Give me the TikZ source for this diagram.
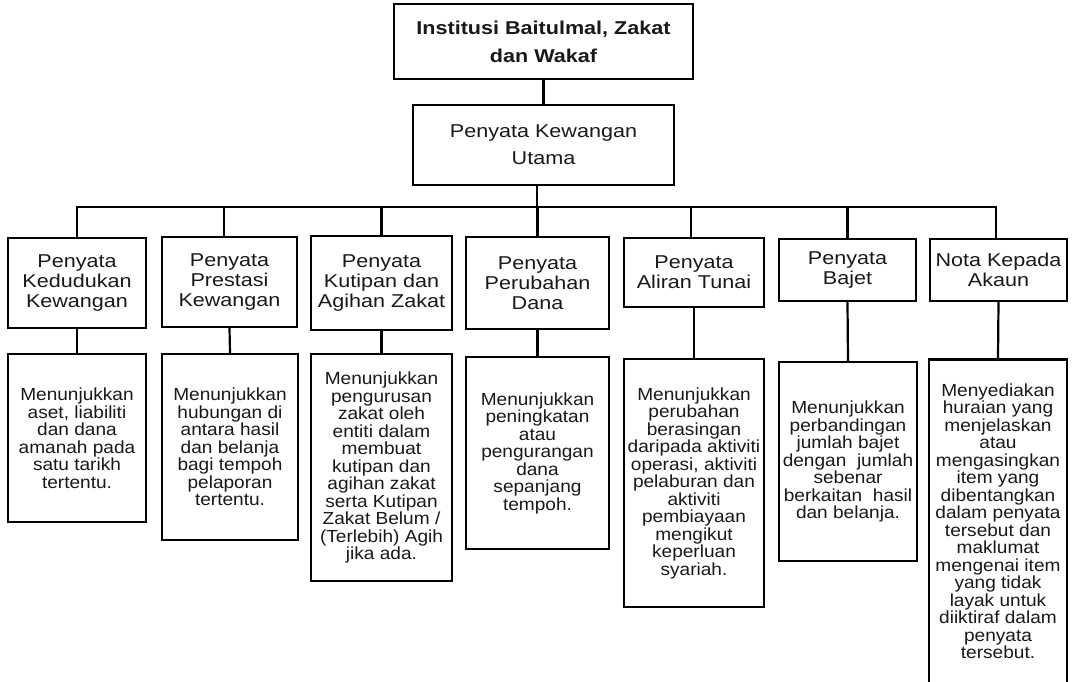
\documentclass[tikz,border=0pt]{standalone}
\usepackage{fontspec}
\setmainfont{Liberation Sans}
\newfontfamily\headfont{Liberation Sans}[FakeStretch=1.16]
\newfontfamily\bodyfont{Liberation Sans}[FakeStretch=1.09]
\begin{document}
\begin{tikzpicture}[x=1pt,y=-1pt,
  box/.style={draw, line width=2.2pt, inner sep=0pt, align=center, text=black!90},
  lvltop/.style={box, font=\headfont\bfseries\fontsize{18.6}{28}\selectfont},
  lvlmain/.style={box, font=\headfont\fontsize{18.6}{26.7}\selectfont},
  lvltwo/.style={box, font=\headfont\fontsize{18.6}{20}\selectfont},
  lvlthree/.style={box, font=\bodyfont\fontsize{17.5}{17.5}\selectfont},
  link/.style={line width=2.2pt}]
\useasboundingbox (0,0) rectangle (1072,681);
\clip (0,0) rectangle (1072,681);
\fill[white] (0,0) rectangle (1072,681);

% level 0 and 1
\node[lvltop, minimum width=299pt, minimum height=75pt] (top) at (543.5,41.5) {Institusi Baitulmal, Zakat\\dan Wakaf};
\node[lvlmain, minimum width=261pt, minimum height=80pt] (pk) at (543.5,145) {Penyata Kewangan\\Utama};

% level 2
\node[lvltwo, minimum width=138pt, minimum height=90pt] (b1) at (77,283) {Penyata\\Kedudukan\\Kewangan};
\node[lvltwo, minimum width=135pt, minimum height=90pt] (b2) at (229.5,282) {Penyata\\Prestasi\\Kewangan};
\node[lvltwo, minimum width=141pt, minimum height=94pt] (b3) at (381.5,283) {Penyata\\Kutipan dan\\Agihan Zakat};
\node[lvltwo, minimum width=143pt, minimum height=92pt] (b4) at (537.5,283) {Penyata\\Perubahan\\Dana};
\node[lvltwo, minimum width=140pt, minimum height=69pt] (b5) at (694,272.5) {Penyata\\Aliran Tunai};
\node[lvltwo, minimum width=137pt, minimum height=62pt] (b6) at (847.5,270) {Penyata\\Bajet};
\node[lvltwo, minimum width=137pt, minimum height=62pt] (b7) at (998.5,270) {Nota Kepada\\Akaun};

% level 3
\node[lvlthree, minimum width=138pt, minimum height=168pt] (c1) at (77,438) {Menunjukkan\\aset, liabiliti\\dan dana\\amanah pada\\satu tarikh\\tertentu.};
\node[lvlthree, minimum width=136pt, minimum height=186pt] (c2) at (230,447) {Menunjukkan\\hubungan di\\antara hasil\\dan belanja\\bagi tempoh\\pelaporan\\tertentu.};
\node[lvlthree, minimum width=141pt, minimum height=227pt] (c3) at (381.5,467.5) {Menunjukkan\\pengurusan\\zakat oleh\\entiti dalam\\membuat\\kutipan dan\\agihan zakat\\serta Kutipan\\Zakat Belum /\\(Terlebih) Agih\\jika ada.};
\node[lvlthree, minimum width=143pt, minimum height=192pt] (c4) at (537.5,453) {Menunjukkan\\peningkatan\\atau\\pengurangan\\dana\\sepanjang\\tempoh.};
\node[lvlthree, minimum width=140pt, minimum height=248pt] (c5) at (694,483) {Menunjukkan\\perubahan\\berasingan\\daripada aktiviti\\operasi, aktiviti\\pelaburan dan\\aktiviti\\pembiayaan\\mengikut\\keperluan\\syariah.};
\node[lvlthree, minimum width=138pt, minimum height=199pt] (c6) at (848,461.5) {Menunjukkan\\perbandingan\\jumlah bajet\\dengan\ \ jumlah\\sebenar\\berkaitan\ \ hasil\\dan belanja.};
\node[lvlthree, draw=none, minimum width=136pt, minimum height=321pt] (c7) at (998,521) {Menyediakan\\huraian yang\\menjelaskan\\atau\\mengasingkan\\item yang\\dibentangkan\\dalam penyata\\tersebut dan\\maklumat\\mengenai item\\yang tidak\\layak untuk\\diiktiraf dalam\\penyata\\tersebut.};
\draw[line width=2.2pt] (c7.north west) rectangle ([yshift=-30pt]c7.south east);

% connectors
\draw[link] (top.south) -- (pk.north);
\coordinate (bl) at (77,207);
\coordinate (br) at (996,207);
\coordinate (d2) at (224,207);
\coordinate (d5) at (691,207);
\coordinate (d7) at (996,207);
\draw[link] ([xshift=-6.5pt]pk.south) -- ([xshift=-6.5pt]pk.south |- bl);
\draw[link, line cap=rect] (bl) -- (br);
\draw[link] (bl) -- (b1.north);
\draw[link] (d2) -- (d2 |- b2.north);
\draw[link] (b3.north |- bl) -- (b3.north);
\draw[link] (b4.north |- bl) -- (b4.north);
\draw[link] (d5) -- (d5 |- b5.north);
\draw[link] (b6.north |- bl) -- (b6.north);
\draw[link] (d7) -- (d7 |- b7.north);

\draw[link] (b1.south) -- (c1.north);
\draw[link] (b2.south) -- (c2.north);
\draw[link] (b3.south) -- (c3.north);
\draw[link] (b4.south) -- (c4.north);
\draw[link] (b5.south) -- (c5.north);
\draw[link] (b6.south) -- (c6.north);
\draw[link] (b7.south) -- (c7.north);
\end{tikzpicture}
\end{document}
